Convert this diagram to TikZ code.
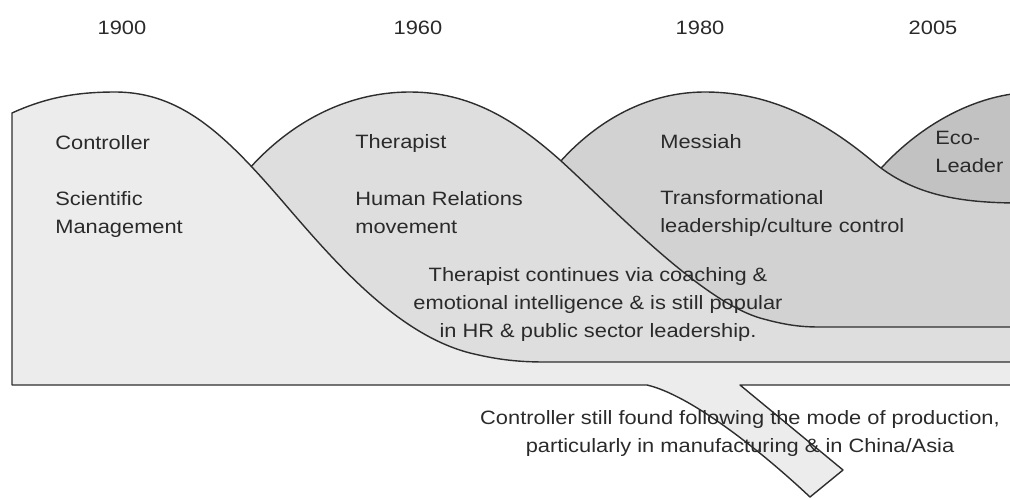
\documentclass[tikz,border=0pt]{standalone}
\usepackage{fontspec}
\setmainfont{Liberation Sans}[FakeStretch=1.13]
\definecolor{ctrlgray}{HTML}{ECECEC}
\definecolor{thergray}{HTML}{DEDEDE}
\definecolor{messgray}{HTML}{D2D2D2}
\definecolor{ecogray}{HTML}{C2C2C2}
\definecolor{linegray}{HTML}{2E2E2E}
\definecolor{textgray}{HTML}{2A2A2A}
\begin{document}
\begin{tikzpicture}[x=0.02cm,y=-0.02cm,
    wave/.style={draw=linegray,line width=0.8pt,line join=round},
    lbl/.style={inner sep=0pt,anchor=base west,align=left,text=textgray,
      font=\fontsize{11}{15.9}\selectfont},
    yearlbl/.style={lbl,anchor=base}]
  \useasboundingbox (0,0) rectangle (1010,498);
  % years
  \node[yearlbl] (y1900) at (122,34) {1900};
  \node[yearlbl] (y1960) at (418,34) {1960};
  \node[yearlbl] (y1980) at (700,34) {1980};
  \node[yearlbl] (y2005) at (933,34) {2005};
  % waves, back to front
  \draw[wave,fill=ecogray] (860,195) .. controls (890,150) and (950,100) .. (1020,93)
    -- (1020,260) -- cycle;
  \draw[wave,fill=messgray] (535,195) .. controls (570,140) and (630,92) .. (705,92)
    .. controls (775,92) and (830,125) .. (877,165)
    .. controls (915,195) and (960,203) .. (1020,203)
    -- (1020,340) -- (700,340) -- cycle;
  \draw[wave,fill=thergray] (225,200) .. controls (265,140) and (330,92) .. (410,92)
    .. controls (470,92) and (515,120) .. (560,160)
    .. controls (615,210) and (700,300) .. (760,318)
    .. controls (785,325) and (800,327) .. (820,327)
    -- (1020,327) -- (1020,372) -- (450,372) -- cycle;
  \draw[wave,fill=ctrlgray] (12,385) -- (12,113) .. controls (45,98) and (75,92) .. (115,92)
    .. controls (185,92) and (230,140) .. (290,210)
    .. controls (340,268) and (400,335) .. (470,353)
    .. controls (495,359) and (515,362) .. (545,362)
    -- (1020,362) -- (1020,385) -- (740,385) -- (843,470) -- (810,497)
    .. controls (760,450) and (690,395) .. (647,385) -- cycle;
  % labels (base = last line)
  \node[lbl] (ctrl) at (55,149) {Controller};
  \node[lbl] (sciman) at (55,233) {Scientific\\Management};
  \node[lbl] (ther) at (355,148) {Therapist};
  \node[lbl] (humrel) at (355,233) {Human Relations\\movement};
  \node[lbl] (mess) at (660,148) {Messiah};
  \node[lbl] (transf) at (660,232) {Transformational\\leadership/culture control};
  \node[lbl] (eco) at (935,172) {Eco-\\Leader};
  \node[lbl,anchor=base,align=center] (coach) at (598,337)
    {Therapist continues via coaching \&\\emotional intelligence \& is still popular\\in HR \& public sector leadership.};
  \node[lbl,anchor=base,align=center] (prod) at (740,452)
    {Controller still found following the mode of production,\\particularly in manufacturing \& in China/Asia};
\end{tikzpicture}
\end{document}
